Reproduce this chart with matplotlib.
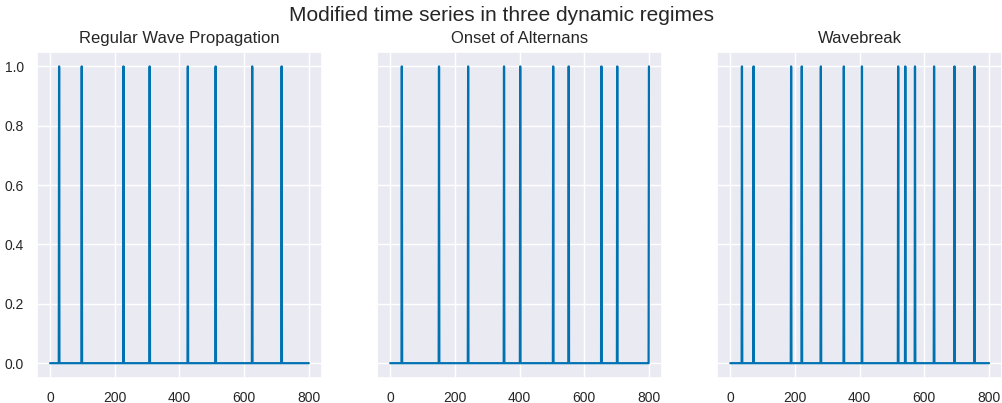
import numpy as np
import matplotlib
matplotlib.use('Agg')
import matplotlib.pyplot as plt
import seaborn as sns

sns.set_theme(style='darkgrid')
plt.rcParams['font.family'] = ['Liberation Sans', 'DejaVu Sans']

# Vị trí các xung (chỉ số thời gian) trong mỗi chế độ
n_steps = 801
titles = ['Regular Wave Propagation', 'Onset of Alternans', 'Wavebreak']
spikes_regular = [28, 98, 227, 308, 426, 512, 625, 716]
spikes_alternans = [36, 151, 241, 352, 402, 504, 552, 653, 702, 800]
spikes_wavebreak = [36, 72, 188, 221, 280, 351, 407, 519, 541, 571, 630, 693, 755]

all_spikes = [spikes_regular, spikes_alternans, spikes_wavebreak]

fig, axes = plt.subplots(1, 3, figsize=(10.03, 4.03), dpi=100, sharey=True)

for ax, title, spikes in zip(axes, titles, all_spikes):
    series = np.zeros(n_steps)
    series[spikes] = 1.0
    ax.plot(np.arange(n_steps), series, color='#0072B2', linewidth=1.6)
    ax.set_title(title, fontsize=12)
    ax.set_xticks([0, 200, 400, 600, 800])
    ax.tick_params(labelsize=10)

axes[0].set_yticks([0.0, 0.2, 0.4, 0.6, 0.8, 1.0])
fig.suptitle('Modified time series in three dynamic regimes', fontsize=15, y=0.985)
fig.subplots_adjust(left=0.037, right=0.999, bottom=0.062, top=0.872, wspace=0.195)
fig.savefig('out.png')
